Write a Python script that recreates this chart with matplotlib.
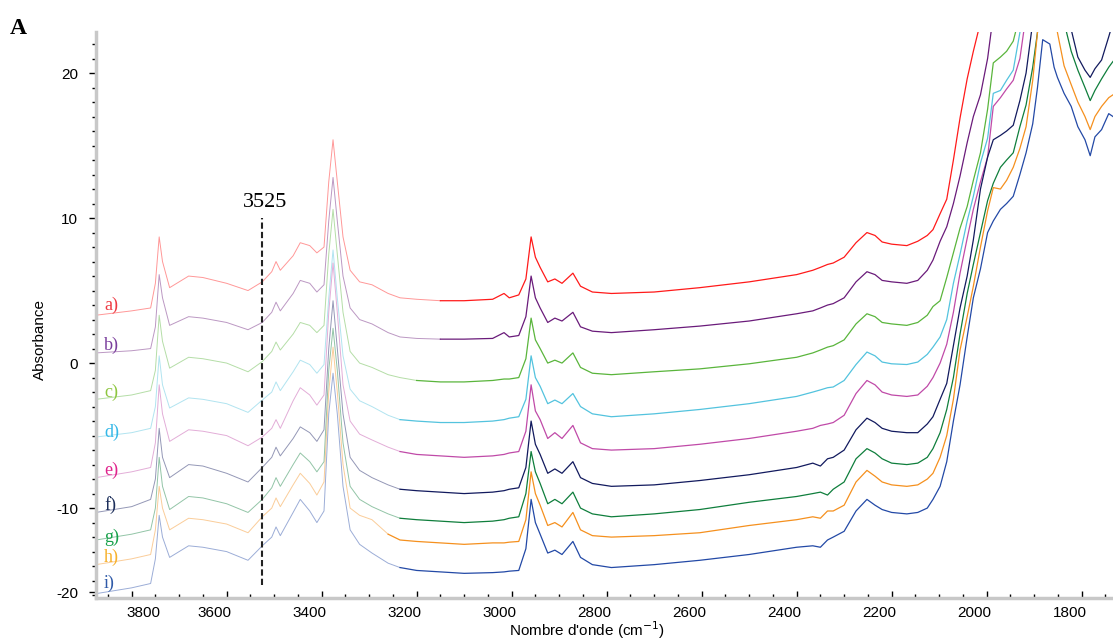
import numpy as np
import matplotlib
matplotlib.use("Agg")
import matplotlib.pyplot as plt
from matplotlib.transforms import ScaledTranslation

# wavenumber grid (cm-1)
wavenumber = [3875, 3800, 3760, 3750, 3742, 3735, 3720, 3680, 3650, 3600,
              3555, 3525, 3505, 3496, 3487, 3460, 3445, 3425, 3410, 3395,
              3385, 3376, 3367, 3355, 3340, 3320, 3294, 3260, 3235, 3200,
              3150, 3100, 3040, 3016, 3005, 2985, 2970, 2959, 2950, 2940,
              2924, 2909, 2894, 2871, 2855, 2830, 2790, 2700, 2604, 2500,
              2400, 2366, 2350, 2335, 2323, 2300, 2275, 2252, 2235, 2220,
              2200, 2168, 2145, 2125, 2113, 2098, 2084, 2070, 2056, 2041,
              2028, 2013, 1998, 1986, 1971, 1958, 1944, 1930, 1917, 1903,
              1893, 1882, 1867, 1858, 1851, 1837, 1822, 1808, 1793, 1782,
              1772, 1758, 1743, 1734]

spec_a = [3.3, 3.6, 3.8, 5.5, 8.7, 7.0, 5.2, 6.0, 5.9, 5.5,
          5.0, 5.6, 6.3, 7.0, 6.4, 7.4, 8.3, 8.1, 7.6, 8.0,
          12.5, 15.4, 12.5, 8.7, 6.4, 5.6, 5.4, 4.8, 4.5, 4.4,
          4.3, 4.3, 4.4, 4.8, 4.5, 4.7, 5.8, 8.7, 7.3, 6.6,
          5.6, 5.8, 5.5, 6.2, 5.3, 4.9, 4.8, 4.9, 5.2, 5.6,
          6.1, 6.4, 6.6, 6.8, 6.9, 7.3, 8.3, 9.0, 8.8, 8.35,
          8.2, 8.1, 8.4, 8.8, 9.2, 10.3, 11.3, 14.0, 16.9, 19.6,
          21.5, 23.5, 30, 30, 30, 30, 30, 30, 30, 30,
          30, 30, 30, 30, 30, 30, 30, 30, 30, 30,
          30, 30, 30, 30]

spec_b = [0.7, 0.85, 1.0, 2.5, 6.1, 4.5, 2.6, 3.2, 3.1, 2.8,
          2.3, 2.8, 3.5, 4.2, 3.6, 4.8, 5.7, 5.5, 4.9, 5.4,
          9.8, 12.8, 9.8, 6.0, 3.8, 3.0, 2.7, 2.1, 1.8, 1.7,
          1.65, 1.65, 1.7, 2.1, 1.8, 1.9, 3.2, 6.0, 4.5, 3.8,
          2.8, 3.1, 2.9, 3.5, 2.5, 2.2, 2.1, 2.3, 2.55, 2.9,
          3.4, 3.6, 3.8, 4.0, 4.1, 4.5, 5.6, 6.3, 6.1, 5.7,
          5.6, 5.5, 5.7, 6.4, 7.1, 8.4, 9.4, 11.0, 12.9, 15.2,
          17.0, 18.5, 21.0, 24.0, 30, 30, 30, 30, 30, 30,
          30, 30, 30, 30, 30, 30, 30, 30, 30, 30,
          30, 30, 30, 30]

spec_c = [-2.5, -2.2, -1.9, -0.5, 3.3, 1.5, -0.35, 0.4, 0.3, 0.0,
          -0.6, 0.1, 0.8, 1.45, 0.9, 2.0, 2.8, 2.6, 2.1, 2.6,
          7.5, 10.6, 7.5, 3.5, 0.8, 0.0, -0.3, -0.8, -1.0, -1.2,
          -1.3, -1.3, -1.2, -1.1, -1.1, -1.0, 0.3, 3.1, 1.6, 1.0,
          0.0, 0.2, 0.0, 0.7, -0.3, -0.7, -0.8, -0.6, -0.4, -0.05,
          0.4, 0.7, 0.9, 1.1, 1.2, 1.6, 2.7, 3.4, 3.2, 2.8,
          2.7, 2.6, 2.8, 3.3, 3.9, 4.3, 5.9, 7.6, 9.3, 10.8,
          12.6, 14.5, 17.5, 20.7, 21.1, 21.5, 22.2, 24.0, 30, 30,
          30, 30, 30, 30, 30, 30, 30, 30, 30, 30,
          30, 30, 30, 30]

spec_d = [-5.1, -4.8, -4.5, -3.0, 0.5, -1.5, -3.1, -2.4, -2.5, -2.8,
          -3.4, -2.55, -2.0, -1.3, -1.9, -0.6, 0.2, -0.1, -0.7, -0.1,
          4.5, 7.8, 4.5, 0.5, -1.8, -2.6, -3.0, -3.6, -3.9, -4.0,
          -4.1, -4.1, -4.0, -3.9, -3.8, -3.7, -2.5, 0.5, -1.0, -1.6,
          -2.8, -2.55, -2.8, -2.1, -3.0, -3.5, -3.7, -3.5, -3.2, -2.8,
          -2.3, -2.0, -1.85, -1.7, -1.65, -1.2, -0.1, 0.76, 0.5, 0.07,
          -0.05, -0.1, 0.07, 0.6, 1.1, 1.8, 3.0, 5.5, 7.5, 9.8,
          11.5, 13.8, 15.5, 18.6, 18.8, 19.5, 20.2, 22.8, 30, 30,
          30, 30, 30, 30, 30, 30, 30, 30, 30, 30,
          30, 30, 30, 30]

spec_e = [-7.9, -7.5, -7.2, -5.5, -1.5, -3.5, -5.4, -4.6, -4.7, -5.0,
          -5.7, -5.1, -4.5, -3.9, -4.5, -2.6, -1.7, -2.2, -2.9, -2.2,
          3.5, 6.9, 3.5, -1.5, -4.0, -4.9, -5.3, -5.8, -6.1, -6.3,
          -6.4, -6.5, -6.4, -6.3, -6.2, -6.1, -4.7, -1.5, -3.3, -3.9,
          -5.2, -4.8, -5.2, -4.3, -5.5, -5.9, -6.0, -5.9, -5.6, -5.2,
          -4.7, -4.5, -4.3, -4.2, -4.1, -3.6, -2.1, -1.2, -1.5, -2.0,
          -2.2, -2.3, -2.2, -1.6, -1.0, 0.0, 1.3, 3.5, 6.2, 8.6,
          10.6, 12.5, 14.2, 17.7, 18.3, 18.9, 19.5, 21.0, 24.0, 30,
          30, 30, 30, 30, 30, 30, 30, 30, 30, 30,
          30, 30, 30, 30]

spec_f = [-10.3, -9.9, -9.4, -8.0, -4.5, -6.5, -7.9, -7.0, -7.1, -7.6,
          -8.2, -7.2, -6.5, -5.8, -6.4, -5.2, -4.4, -4.8, -5.4, -4.6,
          1.0, 4.3, 1.0, -3.5, -6.5, -7.4, -7.9, -8.4, -8.7, -8.8,
          -8.9, -9.0, -8.9, -8.8, -8.7, -8.6, -7.2, -4.0, -5.6, -6.3,
          -7.6, -7.3, -7.6, -6.8, -7.9, -8.3, -8.5, -8.4, -8.1, -7.7,
          -7.2, -6.9, -7.1, -6.6, -6.5, -6.0, -4.6, -3.8, -4.1, -4.5,
          -4.7, -4.8, -4.8, -4.2, -3.7, -2.5, -1.4, 1.2, 3.8, 6.0,
          8.5, 12.0, 14.2, 15.4, 15.7, 16.0, 16.4, 18.1, 20.0, 23.5,
          30, 30, 30, 30, 30, 30, 23.0, 21.1, 20.2, 19.7,
          20.3, 20.9, 22.5, 23.5]

spec_g = [-12.2, -11.8, -11.5, -10.0, -6.5, -8.5, -10.1, -9.2, -9.3, -9.7,
          -10.3, -9.4, -8.6, -7.9, -8.5, -7.0, -6.2, -6.8, -7.5, -6.8,
          -0.5, 2.4, -0.5, -5.5, -8.5, -9.4, -9.9, -10.4, -10.7, -10.8,
          -10.9, -11.0, -10.9, -10.8, -10.7, -10.6, -9.0, -6.1, -7.5, -8.3,
          -9.7, -9.4, -9.7, -8.9, -10.0, -10.4, -10.6, -10.4, -10.1, -9.6,
          -9.2, -9.0, -8.9, -9.1, -8.7, -8.2, -6.6, -5.9, -6.2, -6.6,
          -6.9, -7.0, -6.9, -6.5, -5.9, -4.8, -3.2, -1.0, 2.0, 4.8,
          6.8, 9.0, 11.2, 12.4, 13.5, 14.0, 14.5, 16.3, 17.8, 20.4,
          22.8, 30, 30, 30, 30, 23.5, 21.5, 20.2, 19.0, 18.1,
          18.8, 19.6, 20.4, 20.8]

spec_h = [-13.9, -13.5, -13.2, -11.5, -8.5, -10.0, -11.5, -10.7, -10.8, -11.1,
          -11.7, -10.6, -10.0, -9.3, -9.9, -8.4, -7.6, -8.3, -9.1, -8.2,
          -2.0, 1.1, -2.0, -7.0, -10.0, -10.5, -10.8, -11.8, -12.2, -12.3,
          -12.4, -12.5, -12.4, -12.4, -12.35, -12.3, -10.8, -7.5, -9.0, -9.8,
          -11.2, -11.0, -11.3, -10.3, -11.5, -11.9, -12.0, -11.9, -11.7, -11.2,
          -10.8, -10.6, -10.7, -10.2, -10.2, -9.8, -8.2, -7.4, -7.8, -8.2,
          -8.4, -8.5, -8.4, -8.0, -7.6, -6.5, -5.0, -2.5, 0.9, 3.2,
          5.3, 8.0, 10.5, 12.1, 12.0, 12.6, 13.5, 14.8, 16.3, 19.5,
          22.8, 30, 30, 30, 22.8, 20.5, 19.2, 18.0, 17.0, 16.1,
          17.0, 17.7, 18.3, 18.5]

spec_i = [-15.9, -15.5, -15.2, -13.5, -10.5, -12.0, -13.4, -12.6, -12.7, -13.0,
          -13.6, -12.6, -12.0, -11.3, -11.9, -10.3, -9.4, -10.2, -11.0, -10.2,
          -3.5, -0.7, -3.5, -8.5, -11.5, -12.5, -13.1, -13.8, -14.1, -14.3,
          -14.4, -14.5, -14.45, -14.4, -14.35, -14.3, -12.8, -9.4, -11.0, -11.8,
          -13.1, -12.9, -13.2, -12.3, -13.4, -13.9, -14.1, -13.9, -13.6, -13.2,
          -12.7, -12.6, -12.7, -12.2, -12.0, -11.6, -10.2, -9.4, -9.8, -10.1,
          -10.3, -10.4, -10.3, -10.0, -9.4, -8.5, -6.8, -4.0, -1.5, 1.8,
          4.5, 6.5, 9.0, 9.8, 10.6, 11.0, 11.5, 13.0, 14.5, 16.5,
          19.0, 22.3, 22.0, 20.4, 19.7, 18.6, 17.7, 16.3, 15.4, 14.3,
          15.6, 16.1, 17.2, 17.0]

spectra = [spec_a, spec_b, spec_c, spec_d, spec_e, spec_f, spec_g, spec_h, spec_i]
names = ["a)", "b)", "c)", "d)", "e)", "f)", "g)", "h)", "i)"]
line_colors = ["#ff1a1a", "#6a1b7a", "#5ab53c", "#53c3de", "#c04aa8",
               "#121a5e", "#0f7e3c", "#f5901e", "#2349a6"]
label_colors = ["#ee3a43", "#7a3e9d", "#8dc63f", "#35b8e8", "#e0238d",
                "#1c2e5a", "#17a14a", "#f7b12b", "#2f5aa8"]
fade_at = [3150, 3150, 3200, 3235, 3235, 3235, 3235, 3260, 3235]
label_y = [4.0, 1.24, -2.0, -4.76, -7.38, -9.79, -12.0, -13.38, -15.17]

plt.rcParams["font.family"] = ["Liberation Sans", "DejaVu Sans"]

fig = plt.figure(figsize=(11.13, 6.39), dpi=100)
ax = fig.add_axes([96 / 1113, 1 - 598 / 639, 1017 / 1113, 566 / 639])

W = np.array(wavenumber)
for vals, col, fade in zip(spectra, line_colors, fade_at):
    y = np.array(vals)
    light = W >= fade
    dark = W <= fade
    ax.plot(W[light], y[light], color=col, lw=0.7, alpha=0.45)
    ax.plot(W[dark], y[dark], color=col, lw=0.9)

for name, col, yy in zip(names, label_colors, label_y):
    ax.text(3858, yy, name, color=col, fontsize=13, family="Liberation Serif",
            va="center", ha="left")

# marker line at 3525
ax.vlines(3525, -15.3, 10.0, colors="#222222", linestyles=(0, (3, 1.5)), lw=1.5)
ax.text(3520, 10.4, "3525", fontsize=16, family="Liberation Serif",
        ha="center", va="bottom")

ax.set_xlim(3875, 1734)
ax.set_ylim(-16.2, 22.83)

ax.set_xticks([3800, 3600, 3400, 3200, 3000, 2800, 2600, 2400, 2200, 2000, 1800])
ax.set_xticks(np.arange(1750, 3876, 50), minor=True)
ax.set_yticks([-15.8, -10, 0, 10, 20], labels=["-20", "-10", "0", "10", "20"])
ax.set_yticks(np.arange(-16, 23, 1), minor=True)

ax.tick_params(axis="x", which="both", direction="in", labelsize=11, pad=6)
ax.tick_params(axis="x", which="major", length=5, width=1)
ax.tick_params(axis="x", which="minor", length=3, width=1)
ax.tick_params(axis="y", which="both", direction="out", labelsize=11, pad=8)
ax.tick_params(axis="y", which="major", length=5, width=1)
ax.tick_params(axis="y", which="minor", length=3, width=1)

for side in ["top", "right"]:
    ax.spines[side].set_visible(False)
for side in ["left", "bottom"]:
    ax.spines[side].set_color("#c8c8c8")
    ax.spines[side].set_linewidth(2.5)

# tick labels sit a little left of their ticks in the original
for lab in ax.get_xticklabels():
    shift = 12 if lab.get_text() == "3800" else -12
    lab.set_transform(lab.get_transform() + ScaledTranslation(shift / 100, 0, fig.dpi_scale_trans))

ax.set_xlabel("Nombre d'onde (cm$^{-1}$)", fontsize=11)
ax.xaxis.set_label_coords(0.483, -0.038)
ax.set_ylabel("Absorbance", fontsize=11)
ax.yaxis.set_label_coords(-0.048, 0.456)

fig.text(0.009, 0.955, "A", fontsize=17, fontweight="bold", family="Liberation Serif",
         va="center", ha="left")

fig.savefig("out.png", dpi=100)
